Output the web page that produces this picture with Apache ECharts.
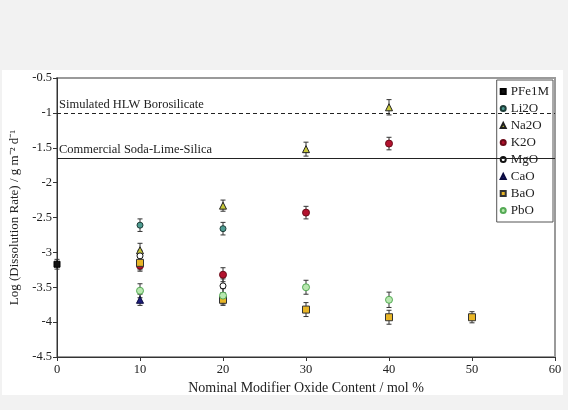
<!DOCTYPE html>
<html>
<head>
<meta charset="utf-8">
<script src="https://cdn.jsdelivr.net/npm/echarts@6/dist/echarts.min.js"></script>
<style>
  html, body { margin: 0; padding: 0; background: #f2f2f2; }
  #chart { width: 568px; height: 410px; }
</style>
</head>
<body>
<div id="chart"></div>
<script>
// x ticks / y ticks
const xTicks = [0, 10, 20, 30, 40, 50, 60]
const yTicks = [-4.5, -4, -3.5, -3, -2.5, -2, -1.5, -1, -0.5]

// reference glasses (horizontal lines)
const refNames = ['Simulated HLW Borosilicate', 'Commercial Soda-Lime-Silica']
const refValues = [-1, -1.65]

// [mol %, log rate, error]
const seriesNames = ['PFe1M', 'Li2O', 'Na2O', 'K2O', 'MgO', 'CaO', 'BaO', 'PbO']
const pfe1m = [[0, -3.17, 0.07]]
const li2o = [[10, -2.61, 0.09], [20, -2.66, 0.09]]
const na2o = [[10, -2.97, 0.1], [20, -2.33, 0.08], [30, -1.52, 0.1], [40, -0.92, 0.11]]
const k2o = [[10, -3.19, 0.08], [20, -3.32, 0.1], [30, -2.43, 0.09], [40, -1.44, 0.09]]
const mgo = [[10, -3.05, 0.08], [20, -3.48, 0.1]]
const cao = [[10, -3.68, 0.08], [20, -3.66, 0.08]]
const bao = [[10, -3.15, 0.1], [20, -3.68, 0.08], [30, -3.82, 0.1], [40, -3.93, 0.1], [50, -3.93, 0.08]]
const pbo = [[10, -3.55, 0.1], [20, -3.62, 0.1], [30, -3.5, 0.1], [40, -3.68, 0.11]]
const allData = [pfe1m, li2o, na2o, k2o, mgo, cao, bao, pbo]

const FONT = "'Liberation Serif', 'Times New Roman', serif"

const markerStyles = [
  { symbol: 'rect', size: 6, color: '#111111', border: '#000000' },
  { symbol: 'circle', size: 6, color: '#4f9c92', border: '#1e3d38' },
  { symbol: 'triangle', size: 7, color: '#c9c93a', border: '#222222' },
  { symbol: 'circle', size: 7, color: '#b3122e', border: '#6a0a18' },
  { symbol: 'circle', size: 6, color: '#ffffff', border: '#111111' },
  { symbol: 'triangle', size: 7, color: '#1c1c7a', border: '#0c0c40' },
  { symbol: 'rect', size: 7, color: '#e8b526', border: '#333333' },
  { symbol: 'circle', size: 7, color: '#b9e8b0', border: '#55aa55' }
]

function errorBars (params, api) {
  let x = api.value(0)
  let y = api.value(1)
  let e = api.value(2)
  let top = api.coord([x, y + e])
  let bot = api.coord([x, y - e])
  let cap = 2.5
  let style = { stroke: '#333333', lineWidth: 1 }
  return {
    type: 'group',
    children: [
      { type: 'line', shape: { x1: top[0], y1: top[1], x2: bot[0], y2: bot[1] }, style },
      { type: 'line', shape: { x1: top[0] - cap, y1: top[1], x2: top[0] + cap, y2: top[1] }, style },
      { type: 'line', shape: { x1: bot[0] - cap, y1: bot[1], x2: bot[0] + cap, y2: bot[1] }, style }
    ]
  }
}

let series = []
seriesNames.forEach((name, i) => {
  series.push({
    name: name + ' err',
    type: 'custom',
    renderItem: errorBars,
    data: allData[i],
    z: 2,
    silent: true
  })
})
seriesNames.forEach((name, i) => {
  let m = markerStyles[i]
  series.push({
    name,
    type: 'scatter',
    symbol: m.symbol,
    symbolSize: m.size,
    data: allData[i].map(d => [d[0], d[1]]),
    z: 3,
    itemStyle: { color: m.color, borderColor: m.border, borderWidth: 1, opacity: 1 }
  })
})

// reference lines hang on an empty line series
series.push({
  name: 'ref',
  type: 'line',
  data: [],
  markLine: {
    silent: true,
    symbol: ['none', 'none'],
    data: refValues.map((v, i) => ({
      yAxis: v,
      lineStyle: { color: '#222222', width: 1, type: i === 0 ? [4, 3] : 'solid' },
      label: {
        show: true,
        formatter: refNames[i],
        position: 'insideStartTop',
        distance: [2, 2],
        color: '#222222',
        fontFamily: FONT,
        fontSize: 12.5
      }
    }))
  }
})

let chart = echarts.init(document.getElementById('chart'), null, { renderer: 'canvas' })
chart.setOption({
  backgroundColor: '#f2f2f2',
  animation: false,
  graphic: [{
    type: 'rect',
    shape: { x: 2, y: 70, width: 561, height: 325 },
    style: { fill: '#ffffff' },
    z: -10
  }],
  grid: {
    left: 56,
    right: 13,
    top: 78,
    bottom: 53,
    show: true,
    borderColor: '#9a9a9a',
    borderWidth: 2,
    backgroundColor: 'transparent'
  },
  legend: {
    data: seriesNames,
    orient: 'vertical',
    right: 15,
    top: 80,
    itemWidth: 5,
    itemHeight: 5,
    itemGap: 4,
    padding: [5, 4, 5, 3],
    backgroundColor: '#ffffff',
    borderColor: '#555555',
    borderWidth: 1,
    borderRadius: 0,
    textStyle: { fontFamily: FONT, fontSize: 13, color: '#222222' }
  },
  xAxis: {
    type: 'value',
    min: xTicks[0],
    max: xTicks[xTicks.length - 1],
    interval: 10,
    name: 'Nominal Modifier Oxide Content / mol %',
    nameLocation: 'middle',
    nameGap: 22,
    nameTextStyle: { fontFamily: FONT, fontSize: 14, color: '#222222' },
    axisLine: { lineStyle: { color: '#333333' } },
    axisTick: { length: 4, lineStyle: { color: '#333333' } },
    axisLabel: { fontFamily: FONT, fontSize: 12.5, color: '#222222', margin: 6 },
    splitLine: { show: false }
  },
  yAxis: {
    type: 'value',
    min: yTicks[0],
    max: yTicks[yTicks.length - 1],
    interval: 0.5,
    name: 'Log (Dissolution Rate) / g m\u207B\u00B2 d\u207B\u00B9',
    nameLocation: 'middle',
    nameGap: 36,
    nameTextStyle: { fontFamily: FONT, fontSize: 13, color: '#222222' },
    axisLine: { show: true, lineStyle: { color: '#333333' } },
    axisTick: { show: true, length: 4, lineStyle: { color: '#333333' } },
    axisLabel: { fontFamily: FONT, fontSize: 12.5, color: '#222222', margin: 5 },
    splitLine: { show: false }
  },
  series
})
</script>
</body>
</html>
